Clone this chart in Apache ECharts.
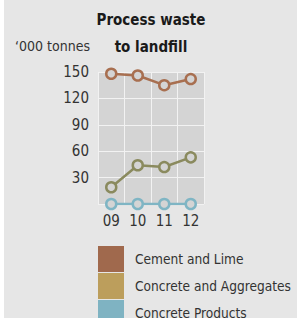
<!DOCTYPE html>
<html>
<head>
<meta charset="utf-8">
<script src="https://cdn.jsdelivr.net/npm/echarts@6/dist/echarts.min.js"></script>
<style>
  html, body { margin: 0; padding: 0; background: #fff; }
  #main { width: 297px; height: 318px; }
</style>
</head>
<body>
<div id="main"></div>
<script>
// data
const years = ["09", "10", "11", "12"];
const cementLime = [148, 146, 135, 142];
const concreteAggregates = [19, 44, 42, 53];
const concreteProducts = [0, 0, 0, 0];
const seriesNames = ["Cement and Lime", "Concrete and Aggregates", "Concrete Products"];
const lineColors = ["#a86f50", "#8a8a5e", "#7fb5c4"];
const legendColors = ["#a0694d", "#bc9e5c", "#7fb3c2"];

const FONT = "'DejaVu Sans Condensed', 'Liberation Sans Narrow', sans-serif";

const myChart = echarts.init(document.getElementById("main"), null, {
  renderer: "svg",
});

// one line series
function line(name, data, color) {
  return {
    name: name,
    type: "line",
    data: data,
    symbol: "circle",
    symbolSize: 10,
    itemStyle: { color: "#d4d4d4", borderColor: color, borderWidth: 2.5 },
    lineStyle: { color: color, width: 2.5 },
    emphasis: { disabled: true },
  };
}

myChart.setOption({
  backgroundColor: "#fff",
  animation: false,
  graphic: [
    // grey page panel, leaves a thin white strip on the left
    {
      type: "rect",
      shape: { x: 4, y: 0, width: 293, height: 318 },
      style: { fill: "#e6e6e6" },
      z: -10,
    },
    {
      type: "text",
      left: 15,
      top: 39,
      style: { text: "\u2018000 tonnes", font: "14px " + FONT, fill: "#333" },
    },
  ],
  title: {
    text: "Process waste\nto landfill",
    left: 151,
    top: 6,
    padding: 0,
    textAlign: "center",
    textStyle: {
      fontFamily: FONT,
      fontWeight: "bold",
      fontSize: 15,
      lineHeight: 27,
      color: "#1a1a1a",
    },
  },
  grid: {
    left: 98,
    right: 93,
    top: 72,
    bottom: 114,
    show: true,
    backgroundColor: "#d4d4d4",
    borderWidth: 0,
  },
  xAxis: {
    type: "category",
    data: years,
    boundaryGap: true,
    axisLine: { show: false },
    axisTick: { show: false },
    splitLine: { show: true, lineStyle: { color: "#f2f2f2", width: 1 } },
    axisLabel: { fontFamily: FONT, fontSize: 15, color: "#333", margin: 9 },
  },
  yAxis: {
    type: "value",
    min: 0,
    max: 150,
    interval: 30,
    axisLine: { show: false },
    axisTick: { show: false },
    splitLine: { show: true, lineStyle: { color: "#f2f2f2", width: 1 } },
    axisLabel: {
      fontFamily: FONT,
      fontSize: 15,
      color: "#333",
      margin: 9,
      formatter: (v) => (v === 0 ? "" : String(v)),
    },
  },
  legend: {
    orient: "vertical",
    left: 98,
    top: 246,
    height: 100,
    padding: 0,
    itemWidth: 26,
    itemHeight: 26,
    itemGap: 1,
    selectedMode: false,
    textStyle: { fontFamily: FONT, fontSize: 13.6, color: "#333", padding: [0, 0, 0, 6] },
    data: seriesNames.map((n, i) => ({
      name: n,
      icon: "rect",
      itemStyle: { color: legendColors[i], borderWidth: 0 },
    })),
  },
  series: [
    line(seriesNames[0], cementLime, lineColors[0]),
    line(seriesNames[1], concreteAggregates, lineColors[1]),
    line(seriesNames[2], concreteProducts, lineColors[2]),
  ],
});
</script>
</body>
</html>
